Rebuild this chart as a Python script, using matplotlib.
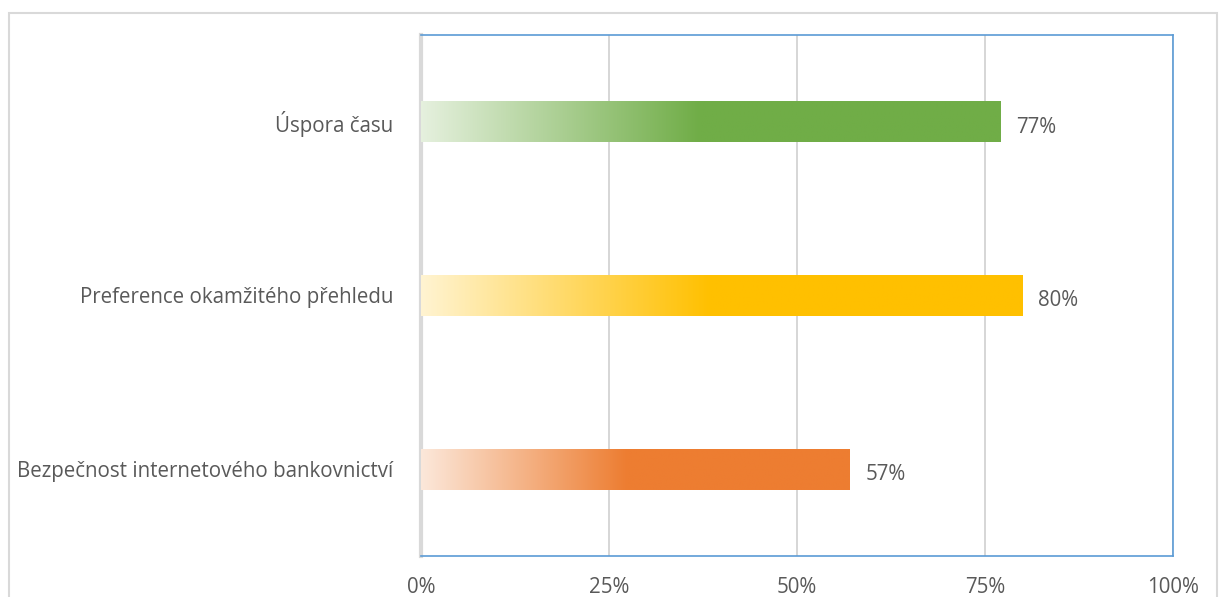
import numpy as np
import matplotlib; matplotlib.use("Agg")
import matplotlib.pyplot as plt
from matplotlib.colors import to_rgb
from matplotlib.patches import Rectangle

categories = ["Bezpečnost internetového bankovnictví", "Preference okamžitého přehledu", "Úspora času"]
values = [57, 80, 77]
colors = ["#ED7D31", "#FFC000", "#70AD47"]
xticks = [0, 25, 50, 75, 100]

TXT = "#595959"
FS = 14.8
plt.rcParams["font.family"] = ["Open Sans", "DejaVu Sans"]

fig = plt.figure(figsize=(12.21, 5.97), dpi=100)
# outer chart frame
fig.patches.append(Rectangle((9/1221, -0.1), (1217-9)/1221, 1 - 13/597 + 0.1, transform=fig.transFigure,
                             fill=False, edgecolor="#d9d9d9", linewidth=1.5))
ax = fig.add_axes([421/1221, 1 - 556/597, (1173-421)/1221, (556-35)/597])

bar_h = 0.236
for i, (v, c) in enumerate(zip(values, colors)):
    full = np.array(to_rgb(c))
    t = np.linspace(0, 1, 256)
    mix = np.clip(t / 0.48, 0, 1)[:, None]
    start = 0.82
    row = full * (1 - start * (1 - mix)) + start * (1 - mix)
    ax.imshow(row[None, :, :], extent=(0, v, i - bar_h/2, i + bar_h/2), aspect="auto",
              interpolation="bilinear", zorder=3)
    ax.text(v + 2.1, i - 0.03, f"{v}%", va="center", ha="left", fontsize=FS, color=TXT)

ax.set_xlim(0, 100)
ax.set_ylim(-0.5, 2.5)
ax.set_xticks(xticks)
ax.set_xticklabels([f"{x}%" for x in xticks], fontsize=FS, color=TXT)
ax.set_yticks(range(3))
ax.set_yticklabels(categories, fontsize=FS, color=TXT)
ax.tick_params(axis="x", length=0, pad=15)
ax.tick_params(axis="y", length=0, pad=20)
ax.grid(axis="x", color="#d0d0d0", linewidth=1.2, zorder=0)
ax.set_axisbelow(True)
for s in ["top", "right", "bottom"]:
    ax.spines[s].set_color("#5B9BD5")
    ax.spines[s].set_linewidth(1.2)
ax.spines["left"].set_color("#d9d9d9")
ax.spines["left"].set_linewidth(3)

fig.savefig("out.png", dpi=100)
